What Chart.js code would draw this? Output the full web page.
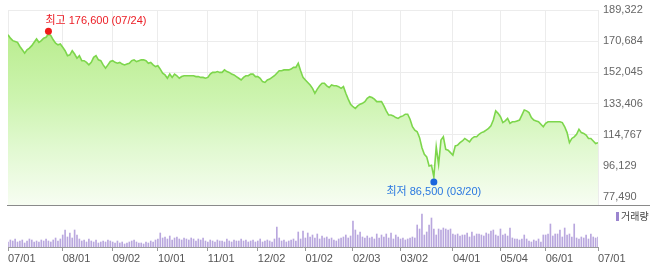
<!DOCTYPE html>
<html>
<head>
<meta charset="utf-8">
<script src="https://cdn.jsdelivr.net/npm/chart.js@4.4.0/dist/chart.umd.min.js"></script>
<style>
  html, body { margin: 0; padding: 0; background: #fff; }
  #wrap { position: relative; width: 650px; height: 270px; overflow: hidden; font-family: 'Liberation Sans', 'Noto Sans CJK KR', sans-serif; }
  #priceBox { position: absolute; left: 0; top: 0; width: 650px; height: 205px; }
  #volBox { position: absolute; left: 0; top: 206px; width: 650px; height: 64px; }
  #sep { position: absolute; left: 7px; top: 205px; width: 643px; height: 1px; background: #8a8a8a; }
  #volLegend { position: absolute; left: 616px; top: 211px; font-size: 10px; color: #444; line-height: 12px; white-space: nowrap; }
  #volLegend i { display: inline-block; width: 3px; height: 9px; background: #9b85cf; margin-right: 2px; vertical-align: -1px; }
</style>
</head>
<body>
<div id="wrap">
  <div id="priceBox"><canvas id="priceChart"></canvas></div>
  <div id="sep"></div>
  <div id="volBox"><canvas id="volChart"></canvas></div>
  <div id="volLegend"><i></i>거래량</div>
</div>
<script>
// daily closes, 2019-07-01 .. 2020-07-01 (trading days)
const closePrices = [
  174500, 172500, 171000, 170500, 170000, 167500, 165500, 163500, 165500, 166500,
  168000, 170000, 172000, 170000, 171000, 172500, 173000, 175000, 174000, 171500,
  169500, 168500, 169000, 167000, 165000, 162000, 162500, 165000, 163000, 160500,
  162000, 159000, 159000, 158000, 156500, 158000, 161000, 162000, 159500, 159000,
  156500, 154500, 156500, 158500, 159000, 158000, 157500, 158000, 157000, 156500,
  157000, 157500, 159000, 159500, 158500, 159000, 159500, 159500, 159000, 157500,
  158000, 156500, 155500, 156000, 154000, 151500, 150500, 148500, 151000, 149000,
  151000, 150000, 148500, 149500, 150000, 150000, 150000, 150000, 150000, 149500,
  149500, 149000, 149000, 148500, 149000, 151000, 152000, 152000, 152500, 152000,
  152000, 153500, 152500, 152000, 151000, 150500, 149500, 148500, 147500, 149000,
  150000, 150000, 151000, 151000, 149500, 149500, 148500, 146500, 146000, 147500,
  148000, 149000, 150000, 151500, 153000, 153000, 153500, 153500, 153500, 154000,
  155000, 155000, 157500, 153000, 149000, 147500, 146000, 144500, 142500, 139500,
  142000, 144000, 145500, 145500, 144000, 143000, 144500, 144000, 144000, 143500,
  142500, 143500, 139500, 136000, 133000, 131500, 130500, 132000, 133000, 133500,
  134500, 136500, 137500, 137000, 136000, 134500, 134500, 134500, 132000, 129000,
  126500, 126500, 126000, 125000, 124500, 125500, 126000, 127000, 127000, 124000,
  119500, 117500, 116500, 113000, 107000, 103000, 101500, 96000, 96500, 89500,
  107500, 97000, 111500, 113500, 106000, 105500, 104000, 102500, 108000, 108500,
  110000, 111000, 112500, 111500, 110500, 112500, 113500, 113500, 115000, 116000,
  116500, 117500, 118500, 120000, 123500, 129000, 127500, 125500, 122000, 123000,
  124500, 121500, 122500, 122500, 123000, 123500, 126500, 129500, 129000, 128000,
  125000, 123500, 123000, 122500, 121000, 119500, 121500, 122500, 122500, 122500,
  122500, 122500, 122500, 122000, 119500, 116000, 110000, 112500, 113500, 115000,
  118000, 116000, 115500, 114500, 112500, 112500, 111000, 109500, 110000
];

// daily volume (10k shares)
const volumes = [
  5, 7, 6, 8, 5, 6, 7, 4, 6, 8, 7, 5, 6, 5, 7, 6, 8, 6, 5, 7, 9, 6, 8,
  12, 17, 10, 14, 9, 17, 12, 8,
  6, 7, 5, 8, 6, 5, 7, 4, 5, 6, 5, 7, 6,
  5, 4, 6, 4, 5, 3, 4, 5, 6, 7, 5, 4, 4, 3, 5, 4, 6, 5, 7,
  8, 14, 9, 10, 8, 11, 7, 9, 10, 8, 7, 9, 8, 7, 9, 8, 6, 8, 7, 9, 6,
  5, 7, 6, 5, 7, 6, 6, 5, 8, 6, 5, 7, 6, 6, 8, 6, 7, 5, 6, 7, 5,
  6, 8, 5, 6, 7, 6, 5, 8, 20, 9, 6, 7, 5, 6, 7, 8, 6, 15, 8, 16,
  9, 14, 10, 12, 9, 13, 8, 11, 9, 10, 8, 9, 7, 6, 8, 9, 10, 12, 9, 11,
  26, 17, 12, 15, 10, 9, 11, 9, 10, 8, 13, 9, 12, 10, 13, 9, 14, 8, 12, 10,
  8, 9, 7, 8, 9, 10, 9, 22, 18, 33, 12, 15, 22, 29, 18, 12, 18, 17, 19, 18, 17, 18,
  13, 12, 13, 11, 12, 12, 14, 10, 15, 11, 13, 13, 12, 11, 14, 13, 16, 17, 12, 11,
  18, 12, 13, 11, 19, 9, 8, 8, 7, 8, 12, 8, 6, 5, 7, 6, 8, 5, 12,
  12, 13, 23, 11, 13, 13, 17, 10, 19, 12, 13, 10, 23, 9, 8, 10, 9, 12, 8, 13, 10, 9,
  10
];

// first trading day of each month -> index into the daily arrays
const monthLabels = ['07/01', '08/01', '09/02', '10/01', '11/01', '12/02', '01/02', '02/03', '03/02', '04/01', '05/04', '06/01', '07/01'];
const monthIndex = [0, 23, 44, 63, 84, 105, 125, 145, 165, 187, 207, 226, 248];

const yTicks = [77490, 96129, 114767, 133406, 152045, 170684, 189322];
const yMin = 72706;
const yMax = 189322;

const highIdx = 17, highValue = 176600, highDate = '07/24';
const lowIdx = 179, lowValue = 86500, lowDate = '03/20';

const FONT = "'Liberation Sans', 'Noto Sans CJK KR', sans-serif";
Chart.defaults.font.family = FONT;
Chart.defaults.font.size = 11;
Chart.defaults.animation = false;

const fmt = v => Math.round(v).toLocaleString('en-US');

// high / low markers
const hiLoPlugin = {
    id: 'hiLo',
    afterDatasetsDraw(chart) {
        const { ctx, scales: { x, y } } = chart;
        ctx.save();
        ctx.font = '11px ' + FONT;
        ctx.textBaseline = 'middle';

        let px = x.getPixelForValue(highIdx);
        let py = y.getPixelForValue(highValue);
        ctx.fillStyle = '#f01a1a';
        ctx.beginPath();
        ctx.arc(px, py, 3.5, 0, Math.PI * 2);
        ctx.fill();
        ctx.fillStyle = '#ec1c24';
        ctx.textAlign = 'left';
        ctx.fillText('최고 ' + fmt(highValue) + ' (' + highDate + ')', px - 3, py - 10);

        px = x.getPixelForValue(lowIdx);
        py = y.getPixelForValue(lowValue);
        ctx.fillStyle = '#1a66dd';
        ctx.beginPath();
        ctx.arc(px, py, 3.5, 0, Math.PI * 2);
        ctx.fill();
        ctx.fillStyle = '#2b78e0';
        ctx.textAlign = 'center';
        ctx.fillText('최저 ' + fmt(lowValue) + ' (' + lowDate + ')', px, py + 10);
        ctx.restore();
    }
};

function fillGradient(context) {
    const area = context.chart.chartArea;
    if (!area) return '#cdf4b0';
    const g = context.chart.ctx.createLinearGradient(0, area.top, 0, area.bottom);
    g.addColorStop(0, '#b3ea84');
    g.addColorStop(0.46, '#cdf4b0');
    g.addColorStop(0.72, '#e2f9d2');
    g.addColorStop(1, '#f7fdf2');
    return g;
}

new Chart(document.getElementById('priceChart'), {
    type: 'line',
    data: {
        datasets: [{
            data: closePrices.map((v, i) => ({ x: i, y: v })),
            borderColor: '#7dd64c',
            borderWidth: 1.6,
            backgroundColor: fillGradient,
            fill: 'start',
            pointRadius: 0,
            tension: 0
        }]
    },
    options: {
        responsive: true,
        maintainAspectRatio: false,
        layout: { padding: { left: 8, right: 0, top: 10, bottom: 0 } },
        plugins: { legend: { display: false }, tooltip: { enabled: false } },
        scales: {
            x: {
                type: 'linear',
                min: 0,
                max: closePrices.length - 1,
                ticks: { display: false },
                grid: { color: '#ececec', drawTicks: false },
                border: { display: false },
                afterBuildTicks: s => { s.ticks = monthIndex.map(v => ({ value: v })); },
                afterFit: s => { s.height = 0; s.paddingLeft = 0; s.paddingRight = 0; }
            },
            y: {
                position: 'right',
                min: yMin,
                max: yMax,
                grid: { color: '#ececec', drawTicks: false },
                border: { display: false },
                ticks: { color: '#666', padding: 5, callback: v => fmt(v) },
                afterBuildTicks: s => { s.ticks = yTicks.map(v => ({ value: v })); },
                afterFit: s => { s.width = 52; s.paddingTop = 0; s.paddingBottom = 0; }
            }
        }
    },
    plugins: [hiLoPlugin]
});

new Chart(document.getElementById('volChart'), {
    type: 'bar',
    data: {
        datasets: [{
            data: volumes.map((v, i) => ({ x: i, y: v })),
            backgroundColor: '#b9a7de',
            barThickness: 1
        }]
    },
    options: {
        responsive: true,
        maintainAspectRatio: false,
        layout: { padding: { left: 8, right: 52, top: 3, bottom: 0 } },
        plugins: { legend: { display: false }, tooltip: { enabled: false } },
        scales: {
            x: {
                type: 'linear',
                min: 0,
                max: volumes.length - 1,
                offset: false,
                grid: { offset: false, drawOnChartArea: false, drawTicks: true, tickLength: 4, color: '#9a9a9a' },
                border: { display: true, color: '#9a9a9a' },
                ticks: {
                    align: 'start',
                    padding: 1,
                    color: '#555',
                    maxRotation: 0,
                    autoSkip: false,
                    callback: v => monthLabels[monthIndex.indexOf(v)]
                },
                afterBuildTicks: s => { s.ticks = monthIndex.map(v => ({ value: v })); },
                afterFit: s => { s.height = 23; }
            },
            y: { display: false, min: 0, max: 38 }
        }
    }
});
</script>
</body>
</html>
